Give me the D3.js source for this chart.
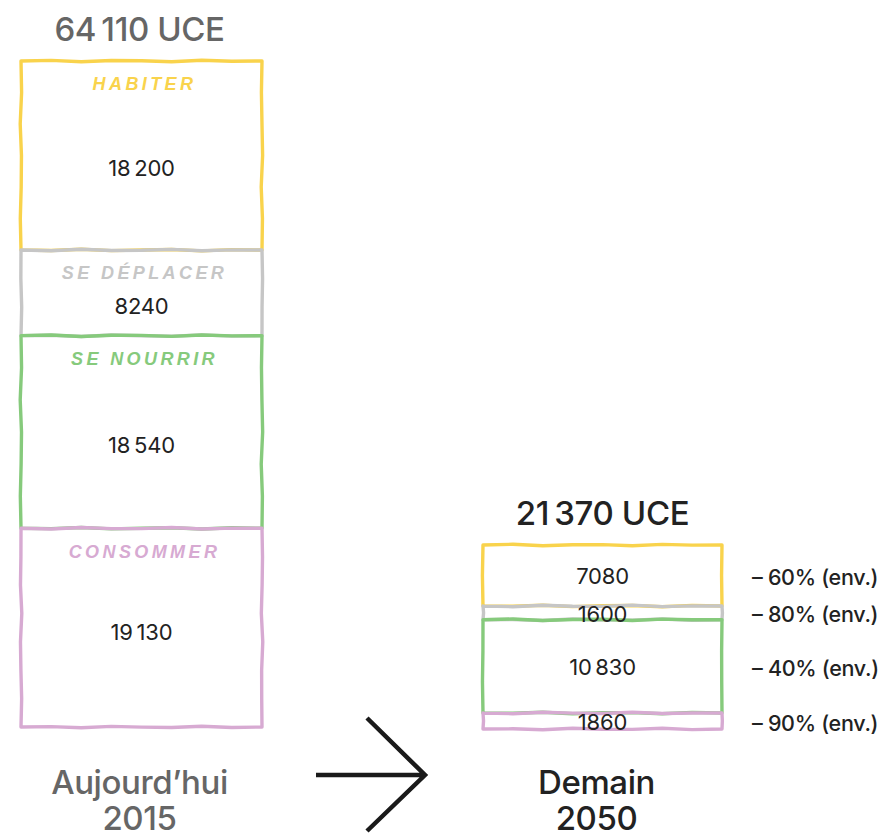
<!DOCTYPE html>
<html>
<head>
<meta charset="utf-8">
<script src="https://cdn.jsdelivr.net/npm/d3@7"></script>
<style>
  body { margin: 0; background: #fff; }
  svg { display: block; }
  .big { font-family: Inter, "Noto Sans", sans-serif; font-weight: 500; font-size: 33px; letter-spacing: -0.4px; }
  .num { font-family: Inter, "Noto Sans", sans-serif; font-weight: 400; font-size: 22px; fill: #222; letter-spacing: -0.2px; }
  .pct { font-family: Inter, "Noto Sans", sans-serif; font-weight: 500; font-size: 21.5px; fill: #222; letter-spacing: -0.3px; }
  .cat { font-family: "Liberation Sans", sans-serif; font-style: italic; font-weight: 700; font-size: 18px; letter-spacing: 3.4px; }
</style>
</head>
<body>
<div id="chart"></div>
<script>
// data
var categories = ["HABITER", "SE DÉPLACER", "SE NOURRIR", "CONSOMMER"];
var values2015 = [18200, 8240, 18540, 19130];
var values2050 = [7080, 1600, 10830, 1860];
var reductions = ["– 60% (env.)", "– 80% (env.)", "– 40% (env.)", "– 90% (env.)"];
var periodLabels = [["Aujourd’hui", "2015"], ["Demain", "2050"]];
var colors = ["#F9D34C", "#C6C6C6", "#86CA7C", "#D7AAD2"];

const width = 885;
const height = 833;

const svg = d3.select("#chart").append("svg")
    .attr("width", width)
    .attr("height", height);

// french style numbers: thin space only from 5 digits
function fmt(n) {
    if (n < 10000) return String(n);
    return d3.format(",")(n).replace(/,/g, "\u2009");
}

// two bars, each with its own vertical scale (as in the original drawing)
var bars = [
    { values: values2015, x0: 21, x1: 262, y: d3.scaleLinear().domain([0, d3.sum(values2015)]).range([61, 727]), titleColor: "#666", seed: 1 },
    { values: values2050, x0: 483, x1: 722, y: d3.scaleLinear().domain([0, d3.sum(values2050)]).range([545, 729]), titleColor: "#222", seed: 7 }
];

// makes a slightly wobbly hand drawn box through the corners
const wobbleLine = d3.line().curve(d3.curveLinear);
function handBox(x0, y0, x1, y1, seed) {
    var corners = [[x0, y0], [x1, y0], [x1, y1], [x0, y1], [x0, y0]];
    var pts = [];
    for (let c = 0; c < 4; c++) {
        let a = corners[c], b = corners[c + 1];
        let len = Math.hypot(b[0] - a[0], b[1] - a[1]);
        let n = Math.max(2, Math.round(len / 30));
        let nx = -(b[1] - a[1]) / len, ny = (b[0] - a[0]) / len;
        for (let i = 0; i < n; i++) {
            let t = i / n;
            let amp = (i == 0) ? 0 : 0.8 * Math.sin(seed * 3.1 + c * 1.7 + i * 2.3);
            pts.push([a[0] + (b[0] - a[0]) * t + nx * amp, a[1] + (b[1] - a[1]) * t + ny * amp]);
        }
    }
    pts.push(corners[0]);
    return wobbleLine(pts);
}

bars.forEach(function(bar, bi) {
    var cum = 0;
    var stack = bar.values.map(function(v) {
        let s = { v: v, start: cum, end: cum + v };
        cum += v;
        return s;
    });
    var cx = (bar.x0 + bar.x1) / 2;

    var g = svg.append("g");

    stack.forEach(function(s, i) {
        g.append("path")
            .attr("d", handBox(bar.x0, bar.y(s.start), bar.x1, bar.y(s.end), bar.seed + i))
            .attr("fill", "none")
            .attr("stroke", colors[i])
            .attr("stroke-width", 3.4)
            .attr("stroke-linejoin", "round")
            .attr("stroke-linecap", "round");
    });

    stack.forEach(function(s, i) {
        let top = bar.y(s.start), bottom = bar.y(s.end);
        let mid = (top + bottom) / 2;
        if (bi == 0) {
            // category name at the top of each box
            g.append("text")
                .attr("class", "cat")
                .attr("x", cx + 3)
                .attr("y", top + 23)
                .attr("dy", "0.35em")
                .attr("text-anchor", "middle")
                .attr("fill", colors[i])
                .text(categories[i]);
            mid = mid + (i == 3 ? 5 : 13);
        } else {
            // reduction next to the box
            svg.append("text")
                .attr("class", "pct")
                .attr("x", 752)
                .attr("y", mid + 2)
                .attr("dy", "0.35em")
                .text(reductions[i]);
            mid = mid + 1;
        }
        g.append("text")
            .attr("class", "num")
            .attr("x", cx)
            .attr("y", mid)
            .attr("dy", "0.35em")
            .attr("text-anchor", "middle")
            .text(fmt(s.v));
    });

    // total above
    g.append("text")
        .attr("class", "big")
        .attr("x", cx + (bi == 0 ? -2 : 0))
        .attr("y", bar.y.range()[0] - 20)
        .attr("text-anchor", "middle")
        .attr("fill", bar.titleColor)
        .text(fmt(cum) + " UCE");

    // period labels below
    periodLabels[bi].forEach(function(t, li) {
        g.append("text")
            .attr("class", "big")
            .attr("x", cx + (bi == 0 ? -2 : -6))
            .attr("y", 794 + li * 36)
            .attr("text-anchor", "middle")
            .attr("fill", bar.titleColor)
            .text(t);
    });
});

// arrow between the two years
svg.append("path")
    .attr("d", "M316,775 L425,775 M367,718 L425,775 L367,831")
    .attr("fill", "none")
    .attr("stroke", "#1a1a1a")
    .attr("stroke-width", 4.5);
</script>
</body>
</html>
